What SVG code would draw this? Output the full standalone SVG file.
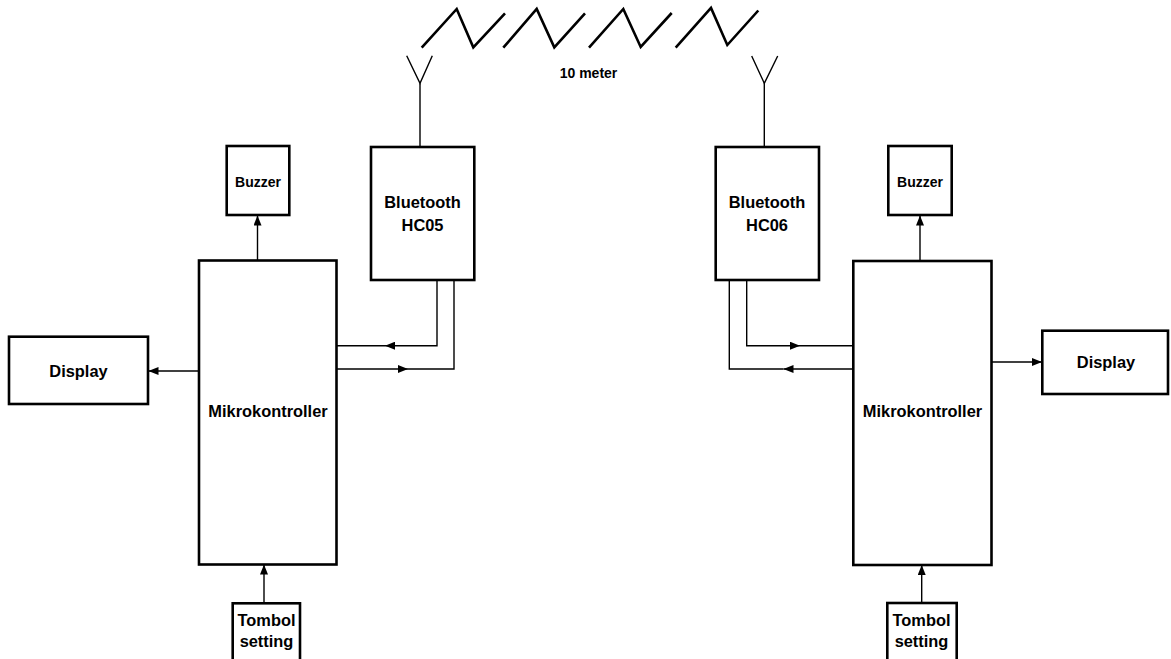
<svg xmlns="http://www.w3.org/2000/svg" width="1171" height="659" viewBox="0 0 1171 659">
<style>
.box{fill:#fff;stroke:#000;stroke-width:2.6}
.ln{fill:none;stroke:#000;stroke-width:1.4}
.zz{fill:none;stroke:#000;stroke-width:2.6;stroke-linejoin:miter}
.t{font-family:"Liberation Sans",Arial,sans-serif;font-weight:bold;font-size:16.4px;text-anchor:middle;fill:#000}
.s{font-size:14px}
</style>
<defs>
<marker id="ah" markerWidth="10" markerHeight="8" refX="10" refY="4" orient="auto" markerUnits="userSpaceOnUse">
<path d="M0,0 L10,4 L0,8 Z" fill="#000"/>
</marker>
</defs>
<rect width="1171" height="659" fill="#fff"/>
<g id="radio">
<polyline class="zz" points="421.7,47.7 456.7,9 473.3,47.3 505,13.3"/>
<polyline class="zz" points="503.3,47.7 536.7,9 554.3,47.3 585,13.3"/>
<polyline class="zz" points="589,47.7 623.3,9 640.7,47 671.7,13"/>
<polyline class="zz" points="675.7,47.7 711,8 727.3,45 758.3,10.5"/>
<text class="t s" x="588.5" y="78">10 meter</text>
</g>
<g id="antenna-left">
<polyline class="ln" points="406.7,55.7 420,83.3 432.3,55.7"/>
<line class="ln" x1="420" y1="83.3" x2="420" y2="147"/>
</g>
<g id="antenna-right">
<polyline class="ln" points="751.7,56 764.3,83.3 777.7,56"/>
<line class="ln" x1="764.3" y1="83.3" x2="764.3" y2="147"/>
</g>
<g id="connectors">
<line class="ln" x1="257.5" y1="260" x2="257.5" y2="215.5" marker-end="url(#ah)"/>
<line class="ln" x1="199" y1="371" x2="148.5" y2="371" marker-end="url(#ah)"/>
<line class="ln" x1="264" y1="603" x2="264" y2="564.5" marker-end="url(#ah)"/>
<path class="ln" d="M437,280 V345.7 H385" marker-end="url(#ah)"/>
<line class="ln" x1="385" y1="345.7" x2="336.5" y2="345.7"/>
<path class="ln" d="M454,280 V369 H408"/>
<line class="ln" x1="336.5" y1="369" x2="408" y2="369" marker-end="url(#ah)"/>
<line class="ln" x1="920" y1="261" x2="920" y2="215.5" marker-end="url(#ah)"/>
<line class="ln" x1="991.5" y1="362" x2="1042" y2="362" marker-end="url(#ah)"/>
<line class="ln" x1="921.7" y1="603" x2="921.7" y2="565" marker-end="url(#ah)"/>
<path class="ln" d="M746.7,280 V345.7 H800" marker-end="url(#ah)"/>
<line class="ln" x1="800" y1="345.7" x2="853.3" y2="345.7"/>
<line class="ln" x1="853.3" y1="369" x2="783.5" y2="369" marker-end="url(#ah)"/>
<path class="ln" d="M783.5,369 H729.3 V280"/>
</g>
<g id="mikro-left">
<rect class="box" x="199" y="260.5" width="137.5" height="304"/>
<text class="t" x="268" y="417">Mikrokontroller</text>
</g>
<g id="buzzer-left">
<rect class="box" x="226.7" y="146" width="62.6" height="69"/>
<text class="t s" x="258" y="186.5">Buzzer</text>
</g>
<g id="display-left">
<rect class="box" x="9" y="336.7" width="139" height="67.3"/>
<text class="t" x="78.5" y="376.7">Display</text>
</g>
<g id="bt-left">
<rect class="box" x="371" y="147" width="103.3" height="133"/>
<text class="t" x="422.5" y="207.7">Bluetooth</text>
<text class="t" x="422.5" y="230.7">HC05</text>
</g>
<g id="tombol-left">
<rect class="box" x="232.7" y="603.3" width="67.3" height="60"/>
<text class="t" x="266.5" y="626">Tombol</text>
<text class="t" x="266.5" y="647.3">setting</text>
</g>
<g id="mikro-right">
<rect class="box" x="853.3" y="261" width="138.2" height="304"/>
<text class="t" x="922.5" y="417">Mikrokontroller</text>
</g>
<g id="buzzer-right">
<rect class="box" x="888.3" y="146" width="63.4" height="69"/>
<text class="t s" x="920" y="186.5">Buzzer</text>
</g>
<g id="display-right">
<rect class="box" x="1042.3" y="330.7" width="125.7" height="63.3"/>
<text class="t" x="1106" y="368.3">Display</text>
</g>
<g id="bt-right">
<rect class="box" x="715.7" y="147" width="103.3" height="133"/>
<text class="t" x="767" y="207.7">Bluetooth</text>
<text class="t" x="767" y="230.7">HC06</text>
</g>
<g id="tombol-right">
<rect class="box" x="887.3" y="603" width="69.4" height="60"/>
<text class="t" x="921.5" y="626">Tombol</text>
<text class="t" x="921.5" y="647.3">setting</text>
</g>
</svg>
